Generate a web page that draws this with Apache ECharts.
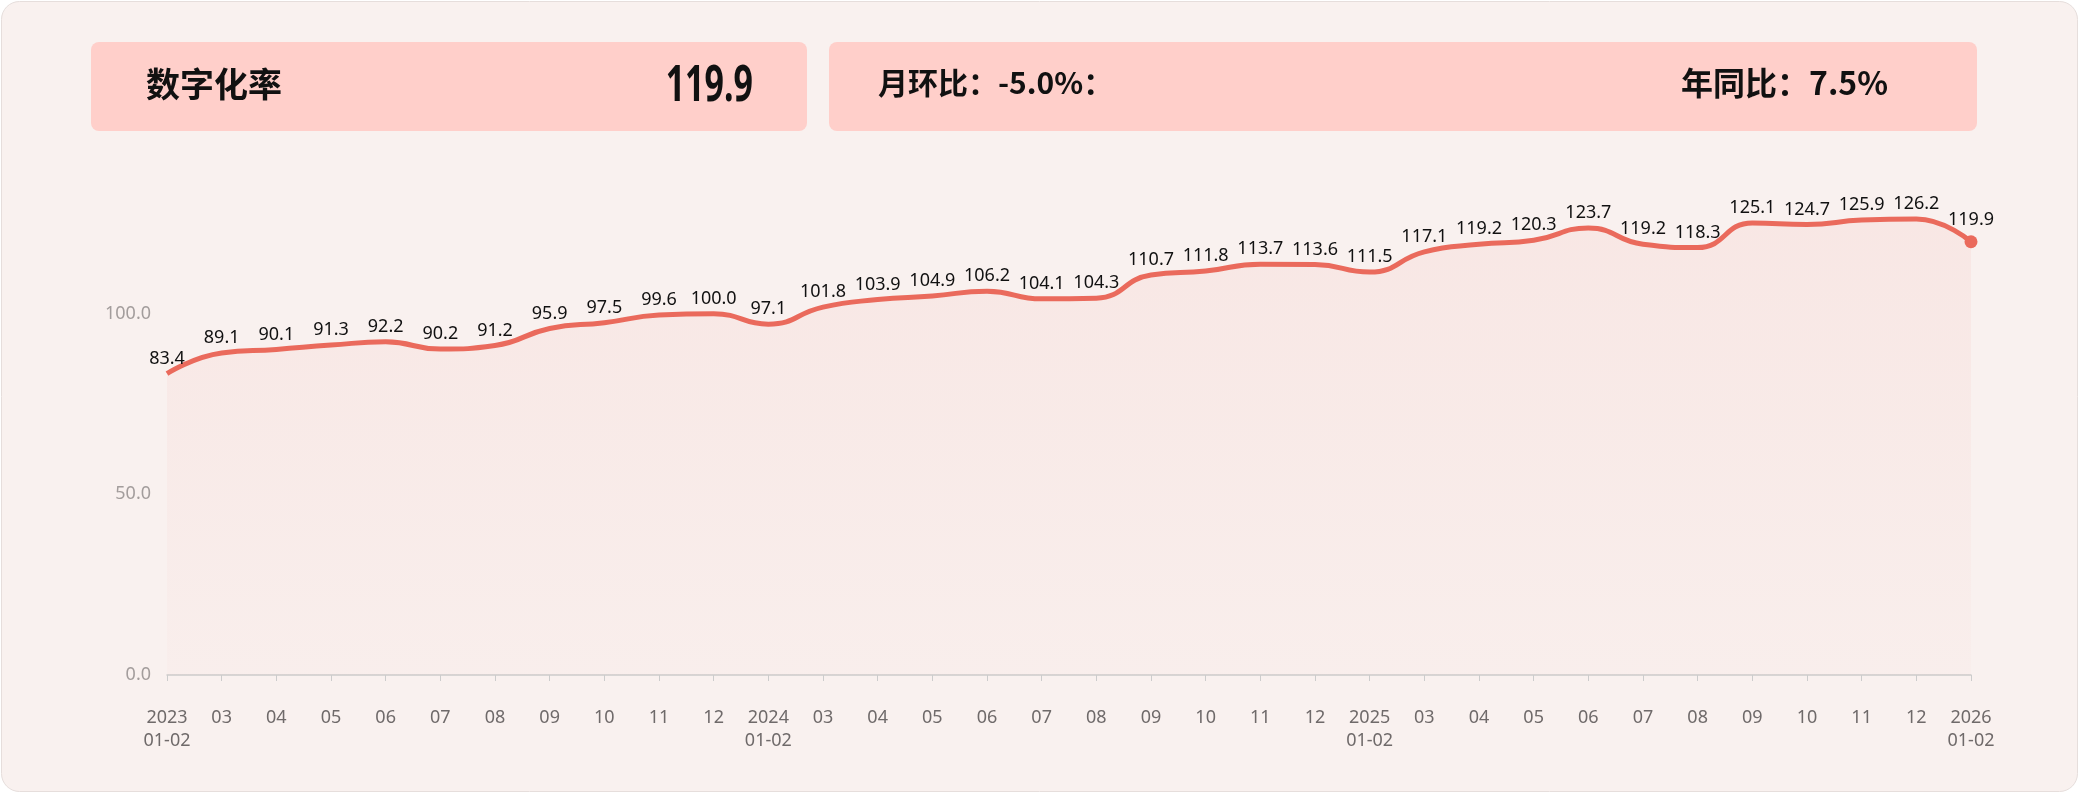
<!DOCTYPE html>
<html>
<head>
<meta charset="utf-8">
<title>数字化率</title>
<script src="https://cdn.jsdelivr.net/npm/echarts@6/dist/echarts.min.js"></script>
<style>
  html, body { margin: 0; padding: 0; background: #ffffff; }
  #main { width: 2079px; height: 794px; }
</style>
</head>
<body>
<div id="main"></div>
<script>
// x轴标签
const months = [
  '2023\n01-02', '03', '04', '05', '06', '07', '08', '09', '10', '11', '12',
  '2024\n01-02', '03', '04', '05', '06', '07', '08', '09', '10', '11', '12',
  '2025\n01-02', '03', '04', '05', '06', '07', '08', '09', '10', '11', '12',
  '2026\n01-02'
];
// 数字化率
const rateList = [
  83.4, 89.1, 90.1, 91.3, 92.2, 90.2, 91.2, 95.9, 97.5, 99.6, 100.0,
  97.1, 101.8, 103.9, 104.9, 106.2, 104.1, 104.3, 110.7, 111.8, 113.7, 113.6,
  111.5, 117.1, 119.2, 120.3, 123.7, 119.2, 118.3, 125.1, 124.7, 125.9, 126.2,
  119.9
];
const yTicks = [0, 50, 100, 150];
// 顶部卡片文字
const title = '数字化率';
const current = '119.9';
const momText = '月环比：-5.0%：';
const yoyText = '年同比：7.5%';

const cjk = '"Noto Sans CJK SC", "Noto Sans", sans-serif';
const lineColor = '#ea6a5c';
const last = rateList.length - 1;

const myChart = echarts.init(document.getElementById('main'), null, { renderer: 'canvas' });

const option = {
  backgroundColor: '#ffffff',
  textStyle: { fontFamily: cjk },
  graphic: [
    {
      type: 'rect', z: -10, left: 1, top: 1,
      shape: { width: 2076, height: 790, r: 18 },
      style: { fill: '#f9f1ef', stroke: '#e6dedc', lineWidth: 1 }
    },
    {
      type: 'rect', z: -5, left: 91, top: 42,
      shape: { width: 716, height: 89, r: 8 },
      style: { fill: '#ffcfca' }
    },
    {
      type: 'rect', z: -5, left: 829, top: 42,
      shape: { width: 1148, height: 89, r: 8 },
      style: { fill: '#ffcfca' }
    },
    {
      type: 'text', left: 146, top: 67,
      style: { text: title, fontSize: 34, fontWeight: 'bold', fill: '#111', fontFamily: cjk }
    },
    {
      // 数值用窄字形
      type: 'text', x: 753, y: 87, scaleX: 0.68, originX: 0,
      style: {
        text: current, fontSize: 50, fontWeight: 'bold', fill: '#111',
        fontFamily: '"Noto Sans", sans-serif',
        align: 'right', verticalAlign: 'middle'
      }
    },
    {
      type: 'text', left: 878, top: 68,
      style: { text: momText, fontSize: 30, fontWeight: 'bold', fill: '#111', fontFamily: cjk }
    },
    {
      type: 'text', left: 1681, top: 67,
      style: { text: yoyText, fontSize: 32, fontWeight: 'bold', fill: '#111', fontFamily: cjk }
    }
  ],
  grid: {
    left: 167,
    right: 108,
    top: 133,
    bottom: 119,
    containLabel: false
  },
  xAxis: {
    type: 'category',
    boundaryGap: false,
    data: months,
    offset: 15,
    axisLine: { lineStyle: { color: '#cccccc', width: 1.5 } },
    axisTick: { alignWithLabel: true, length: 6, lineStyle: { color: '#cccccc' } },
    axisLabel: {
      interval: 0, // 显示所有标签
      color: '#6f6a6a',
      fontSize: 18,
      lineHeight: 23,
      margin: 16,
      fontFamily: '"Noto Sans", sans-serif'
    }
  },
  yAxis: {
    type: 'value',
    min: yTicks[0],
    max: yTicks[yTicks.length - 1],
    interval: 50,
    axisLine: { show: false },
    axisTick: { show: false },
    splitLine: { show: false },
    axisLabel: {
      showMaxLabel: false,
      color: '#a39d9c',
      fontSize: 18,
      margin: 16,
      fontFamily: '"Noto Sans", sans-serif',
      formatter: v => v.toFixed(1)
    }
  },
  series: [
    {
      name: title,
      type: 'line',
      smooth: 0.5,
      data: rateList,
      symbol: 'circle',
      symbolSize: (v, p) => (p.dataIndex === last ? 13 : 0),
      itemStyle: { color: lineColor },
      lineStyle: { color: lineColor, width: 5 },
      label: {
        show: true,
        position: 'top',
        distance: 6,
        color: '#111111',
        fontSize: 18,
        fontFamily: '"Noto Sans", sans-serif',
        formatter: p => p.value.toFixed(1)
      },
      areaStyle: {
        color: new echarts.graphic.LinearGradient(0, 0, 0, 1, [
          { offset: 0, color: 'rgba(236, 110, 100, 0.11)' },
          { offset: 1, color: 'rgba(236, 110, 100, 0.03)' }
        ])
      }
    }
  ]
};
myChart.setOption(option);
</script>
</body>
</html>
